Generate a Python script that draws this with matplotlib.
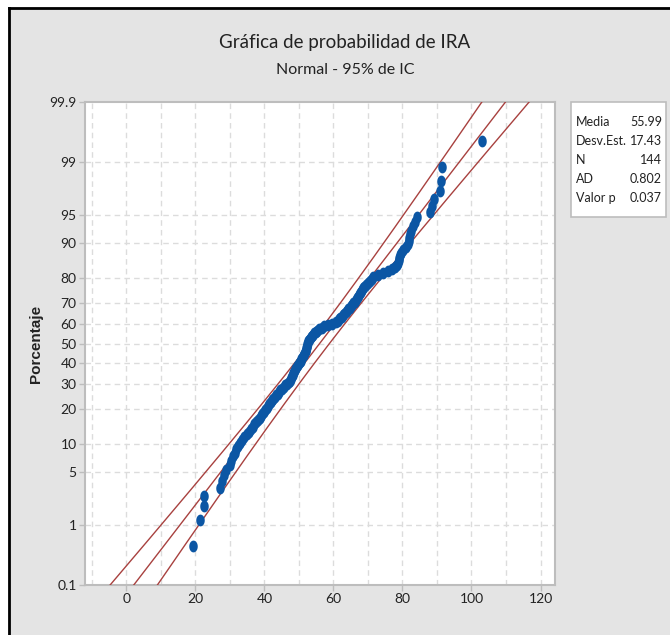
import matplotlib.pyplot as plt
import numpy as np
from statistics import NormalDist

# Valores IRA ordenados
ira = [19.2, 21.3, 22.4, 22.4, 27.2, 27.6, 28.2, 29.0, 29.9, 30.4,
       30.9, 31.4, 31.8, 32.4, 33.0, 33.6, 34.2, 34.9, 35.5, 36.0,
       36.6, 37.1, 37.6, 38.1, 38.6, 39.0, 39.4, 39.8, 40.2, 40.6,
       41.0, 41.4, 41.8, 42.2, 42.6, 43.0, 43.4, 43.8, 44.2, 44.6,
       45.1, 45.6, 46.1, 46.6, 47.0, 47.3, 47.6, 47.8, 48.0, 48.2,
       48.4, 48.6, 48.8, 49.0, 49.2, 49.5, 49.7, 50.0, 50.2, 50.5,
       50.7, 51.0, 51.2, 51.4, 51.6, 51.8, 51.9, 52.0, 52.1, 52.2,
       52.3, 52.4, 52.5, 52.6, 52.8, 53.1, 53.4, 53.8, 54.1, 54.5,
       54.9, 55.2, 55.8, 56.6, 57.4, 58.3, 59.6, 60.6, 61.2, 61.6,
       62.0, 62.4, 62.8, 63.1, 63.5, 63.9, 64.3, 64.7, 65.0, 65.3,
       65.7, 66.1, 66.5, 66.9, 67.2, 67.5, 67.8, 68.1, 68.3, 68.5,
       68.8, 69.3, 70.0, 70.6, 71.2, 71.6, 72.8, 74.3, 75.8, 77.0,
       77.8, 78.4, 78.7, 78.9, 79.1, 79.3, 79.6, 80.2, 80.9, 81.6,
       81.8, 82.0, 82.2, 82.6, 83.0, 83.5, 84.1, 88.0, 88.6, 89.2,
       91.0, 91.2, 91.4, 103.0]

media = 55.99
desv = 17.43
n = 144
ad = 0.802
valor_p = 0.037

pct_ticks = [0.1, 1, 5, 10, 20, 30, 40, 50, 60, 70, 80, 90, 95, 99, 99.9]
pct_labels = ["0.1", "1", "5", "10", "20", "30", "40", "50", "60", "70", "80", "90", "95", "99", "99.9"]

nd = NormalDist()
ppf = np.vectorize(lambda p: nd.inv_cdf(p))

plt.rcParams['font.family'] = ['Lato', 'DejaVu Sans']
texto = "#222222"

fig = plt.figure(figsize=(6.7, 6.35), dpi=100)
fig.patch.set_facecolor("#E4E4E4")

# marco negro (arriba e izquierda) y franja blanca exterior
fig.patches.append(plt.Rectangle((0, 0.989), 1, 0.011, transform=fig.transFigure,
                                 facecolor="white", edgecolor="none", zorder=0))
fig.patches.append(plt.Rectangle((0, 0), 0.0125, 1, transform=fig.transFigure,
                                 facecolor="white", edgecolor="none", zorder=0))
fig.add_artist(plt.Line2D([0.0135, 1], [0.988, 0.988], transform=fig.transFigure,
                          color="black", lw=2))
fig.add_artist(plt.Line2D([0.0135, 0.0135], [0, 0.988], transform=fig.transFigure,
                          color="black", lw=2))

ax = fig.add_axes([85 / 670, 1 - 585 / 635, 470 / 670, 483 / 635])
ax.set_facecolor("white")

# percentiles de rango mediano
rangos = np.arange(1, n + 1)
z_pts = ppf((rangos - 0.3) / (n + 0.4))

# recta ajustada e intervalo de confianza del 95%
z_line = np.linspace(-3.4, 3.4, 200)
x_fit = media + desv * z_line
se = desv * np.sqrt((1 + z_line ** 2 / 2) / n)
linea = "#A8413F"
ax.plot(x_fit, z_line, color=linea, lw=1, zorder=3)
ax.plot(x_fit - 1.96 * se, z_line, color=linea, lw=1, zorder=3)
ax.plot(x_fit + 1.96 * se, z_line, color=linea, lw=1, zorder=3)

# marcador elíptico (más alto que ancho, como en la imagen)
t = np.linspace(0, 2 * np.pi, 40)
elipse = np.column_stack([0.72 * np.cos(t), np.sin(t)])
ax.plot(ira, z_pts, linestyle="none", marker=elipse, color="#0B56A4",
        markersize=8.5, markeredgewidth=0, zorder=4)

zmax = nd.inv_cdf(0.999)
ax.set_ylim(-zmax, zmax)
ax.set_xlim(-12, 124.2)
ax.set_yticks(ppf(np.array(pct_ticks) / 100))
ax.set_yticklabels(pct_labels)
ax.set_xticks(np.arange(0, 121, 20))

# rejilla discontinua
for xv in np.arange(-10, 121, 10):
    ax.axvline(xv, color="#DCDCDC", lw=1, ls=(0, (4, 3)), zorder=1)
for p in pct_ticks[1:-1]:
    ax.axhline(nd.inv_cdf(p / 100), color="#DCDCDC", lw=1, ls=(0, (4, 3)), zorder=1)

for s in ax.spines.values():
    s.set_color("#BDBDBD")
    s.set_linewidth(1.5)
ax.tick_params(axis="both", colors="#BDBDBD", labelcolor=texto,
               labelsize=10, length=4, width=1, pad=2)

ax.set_ylabel("Porcentaje", family=["Liberation Sans", "DejaVu Sans"],
              fontweight="bold", fontsize=11, color=texto)
ax.yaxis.set_label_coords(-0.09, 0.5)

fig.text(0.515, 0.933, "Gráfica de probabilidad de IRA", ha="center", va="center",
         fontsize=13.5, color=texto)
fig.text(0.515, 0.89, "Normal - 95% de IC", ha="center", va="center",
         fontsize=11.5, color=texto)

# cuadro de estadísticos
fig.patches.append(plt.Rectangle((571 / 670, 1 - 217 / 635), 95 / 670, 115 / 635,
                                 transform=fig.transFigure, facecolor="white",
                                 edgecolor="#BDBDBD", lw=1.2, zorder=2))
filas = [("Media", f"{media:.2f}"), ("Desv.Est.", f"{desv:.2f}"), ("N", f"{n}"),
         ("AD", f"{ad:.3f}"), ("Valor p", f"{valor_p:.3f}")]
for k, (nombre, valor) in enumerate(filas):
    yy = 1 - (122 + k * 19) / 635
    fig.text(576 / 670, yy, nombre, ha="left", va="center", fontsize=9, color=texto)
    fig.text(662 / 670, yy, valor, ha="right", va="center", fontsize=9, color=texto)

plt.savefig("out.png", dpi=100, facecolor=fig.get_facecolor())
